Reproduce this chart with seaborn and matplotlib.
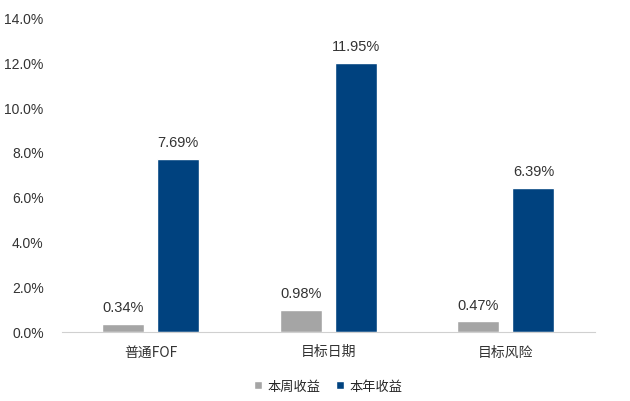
import matplotlib
matplotlib.use("Agg")
import matplotlib.pyplot as plt
import seaborn as sns
import pandas as pd
from matplotlib.ticker import FixedLocator, FuncFormatter

categories = ["普通FOF", "目标日期", "目标风险"]
series = ["本周收益", "本年收益"]
week_ret = [0.34, 0.98, 0.47]
year_ret = [7.69, 11.95, 6.39]
yticks = [0, 2, 4, 6, 8, 10, 12, 14]

df = pd.DataFrame({
    "cat": categories * 2,
    "series": [series[0]] * 3 + [series[1]] * 3,
    "val": week_ret + year_ret,
})

sns.set_style("white")
plt.rcParams['font.family'] = ['Liberation Sans', 'Noto Sans CJK SC', 'DejaVu Sans']

fig = plt.figure(figsize=(6.3, 4.02), dpi=100)
ax = fig.add_axes([0.098, 0.172, 0.846, 0.783])

sns.barplot(data=df, x="cat", y="val", hue="series", order=categories, hue_order=series,
            palette=["#A5A5A5", "#00427F"], width=0.62, gap=0.24, ax=ax,
            saturation=1, legend=True)

for cont in ax.containers:
    ax.bar_label(cont, labels=["%.2f%%" % v for v in cont.datavalues], padding=7,
                 fontsize=10.5, color="#333333")

ax.set_ylim(0, 14)
ax.set_xlim(-0.5, 2.5)
ax.set_yticks(yticks)
ax.yaxis.set_major_formatter(FuncFormatter(lambda v, p: "%.1f%%" % v))
ax.tick_params(axis='y', labelsize=10, colors="#333333", length=0, pad=13)
ax.tick_params(axis='x', labelsize=10, colors="#333333", length=0, pad=9)
ax.xaxis.set_minor_locator(FixedLocator([-0.5, 0.5, 1.5, 2.5]))
ax.tick_params(axis='x', which='minor', length=4, color="#D0D0D0", width=0.8)
ax.set_xlabel("")
ax.set_ylabel("")
for s in ["top", "right", "left"]:
    ax.spines[s].set_visible(False)
ax.spines["bottom"].set_color("#D0D0D0")

for lab in ax.get_xticklabels():
    lab.set_family(['Noto Sans CJK SC', 'DejaVu Sans'])

ax.legend(loc="upper center", bbox_to_anchor=(0.5, -0.115), ncol=2, frameon=False,
          handlelength=0.6, handleheight=0.6, handletextpad=0.4,
          columnspacing=1.2, prop={'family': ['Noto Sans CJK SC', 'DejaVu Sans'], 'size': 9.5})

plt.savefig("out.png", dpi=100)
